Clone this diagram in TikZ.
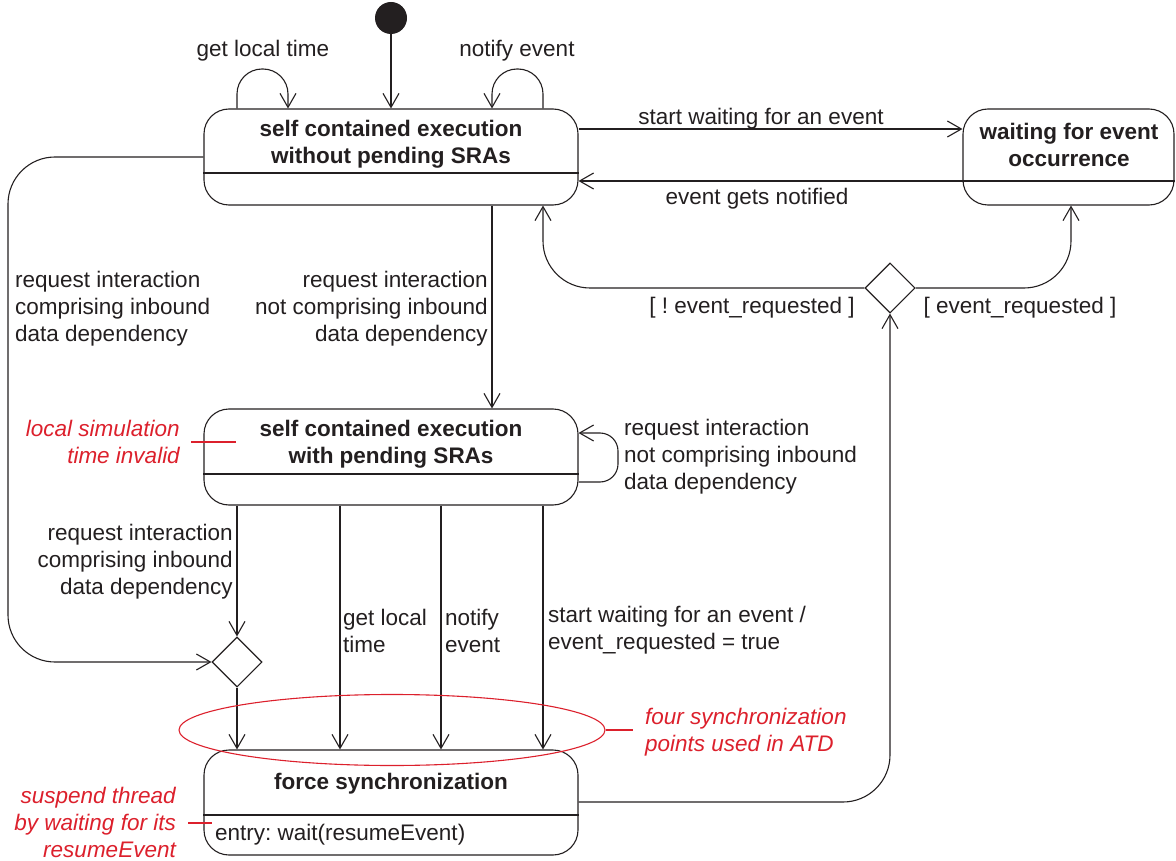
\documentclass[tikz,border=0pt]{standalone}
\usepackage{fontspec}
\setmainfont{Liberation Sans}
\frenchspacing
\usetikzlibrary{arrows.meta,shapes.geometric}
\definecolor{ink}{RGB}{35,31,32}
\definecolor{note}{RGB}{220,32,44}
\begin{document}
\begin{tikzpicture}[x=1pt,y=-1pt,
  every node/.style={font=\fontsize{22.5}{27}\selectfont, text=ink, inner sep=0pt},
  state/.style={draw=ink, line width=1.1pt, rounded corners=25pt, minimum width=374pt},
  txt/.style={yshift=-2.5pt},
  title/.style={txt, font=\fontsize{22.5}{27}\selectfont\bfseries, align=center},
  choice/.style={draw=ink, line width=1.1pt, diamond, shape aspect=1, minimum width=50pt, minimum height=50pt},
  arr/.style={draw=ink, line width=1.1pt, -{Straight Barb[length=14pt,width=16pt,line width=1.1pt]}},
  divider/.style={draw=ink, line width=1.1pt},
  lbl/.style={txt, align=left, anchor=west},
  rlbl/.style={txt, align=right, anchor=east},
  notetext/.style={text=note, font=\fontsize{22.5}{27}\selectfont\itshape},
  noteline/.style={draw=note, line width=1.1pt}
]
\useasboundingbox (0,0) rectangle (1176,861);

% states
\node[state, minimum height=96pt] (A) at (391,157) {};
\node[state, minimum width=211pt, minimum height=96pt] (W) at (1068.5,157) {};
\node[state, minimum height=96pt] (B) at (391,457) {};
\node[state, minimum height=105pt] (FS) at (391,802.5) {};

\draw[divider] (A.west |- 0,173) -- (A.east |- 0,173);
\draw[divider] (W.west |- 0,181) -- (W.east |- 0,181);
\draw[divider] (B.west |- 0,474) -- (B.east |- 0,474);
\draw[divider] (FS.west |- 0,815) -- (FS.east |- 0,815);

\node[title] (Atitle) at (391,142) {self contained execution\\without pending SRAs};
\node[title] (Wtitle) at (1069,142) {waiting for event\\occurrence};
\node[title] (Btitle) at (391,442) {self contained execution\\with pending SRAs};
\node[title] (FStitle) at (391,781) {force synchronization};
\node[lbl] (FSentry) at (215,832) {entry: wait(resumeEvent)};

% pseudo states
\node[circle, fill=ink, minimum size=32pt] (init) at (391,18) {};
\node[choice] (D1) at (890,288) {};
\node[choice] (D2) at (237,662) {};

% transitions around the first state
\draw[arr] (init.south) -- (A.north -| init.south);
\draw[arr, rounded corners=25pt] (A.north -| 237,0) -- (237,69) -- (288,69) -- (A.north -| 288,0);
\draw[arr, rounded corners=25pt] (A.north -| 543,0) -- (543,69) -- (492,69) -- (A.north -| 492,0);
\node[txt] (l1) at (263,48) {get local time};
\node[txt] (l2) at (517,48) {notify event};

\draw[arr] (A.east |- 0,129) -- (W.west |- 0,129);
\draw[arr] (W.west |- 0,181) -- (A.east |- 0,181);
\node[txt] (l3) at (761,116) {start waiting for an event};
\node[txt] (l4) at (757,196) {event gets notified};

\draw[arr, rounded corners=47pt] (D1.west) -- (543,288) -- (A.south -| 543,0);
\draw[arr, rounded corners=47pt] (D1.east) -- (1071,288) -- (W.south -| 1071,0);
\node[txt] (l5) at (752,305) {[ ! event\_requested ]};
\node[txt] (l6) at (1020,305) {[ event\_requested ]};

\draw[arr] (A.south -| 492,0) -- (B.north -| 492,0);
\node[rlbl] (l7) at (488,306) {request interaction\\not comprising inbound\\data dependency};

\draw[arr, rounded corners=47pt] (A.west |- 0,157) -- (8,157) -- (8,662) -- (D2.west);
\node[lbl] (l8) at (15,306) {request interaction\\comprising inbound\\data dependency};

% transitions around the second state
\draw[arr, rounded corners=18pt] (B.east |- 0,482) -- (618,482) -- (618,433) -- (B.east |- 0,433);
\node[lbl] (l9) at (624,454) {request interaction\\not comprising inbound\\data dependency};

\draw[arr] (B.south -| D2.north) -- (D2.north);
\node[rlbl] (l10) at (233,559) {request interaction\\comprising inbound\\data dependency};
\draw[arr] (D2.south) -- (FS.north -| D2.south);

\draw[arr] (B.south -| 340,0) -- (FS.north -| 340,0);
\draw[arr] (B.south -| 441,0) -- (FS.north -| 441,0);
\draw[arr] (B.south -| 543,0) -- (FS.north -| 543,0);
\node[lbl] (l11) at (343,628) {get local\\time};
\node[lbl] (l12) at (445,628) {notify\\event};
\node[lbl] (l13) at (548,628) {start waiting for an event /\\event\_requested = true};

\draw[arr, rounded corners=47pt] (FS.east |- 0,802) -- (890,802) -- (D1.south);

% annotations
\node[rlbl, notetext] (n1) at (180,439.5) {local simulation\\time invalid};
\coordinate (n1end) at (236,442);
\draw[noteline, shorten <=11pt] (n1.east |- n1end) -- (n1end);

\node[draw=note, line width=1.1pt, ellipse, minimum width=426pt, minimum height=71pt] (sync) at (392,730) {};
\node[lbl, notetext] (n2) at (645,730) {four synchronization\\points used in ATD};
\draw[noteline, shorten >=12pt] (sync.east) -- (n2.west |- sync.east);

\node[rlbl, notetext] (n3) at (176,819.5) {suspend thread\\by waiting for its\\resumeEvent};
\coordinate (n3end) at (212,823);
\draw[noteline, shorten <=12pt] (n3.east |- n3end) -- (n3end);
\end{tikzpicture}
\end{document}
